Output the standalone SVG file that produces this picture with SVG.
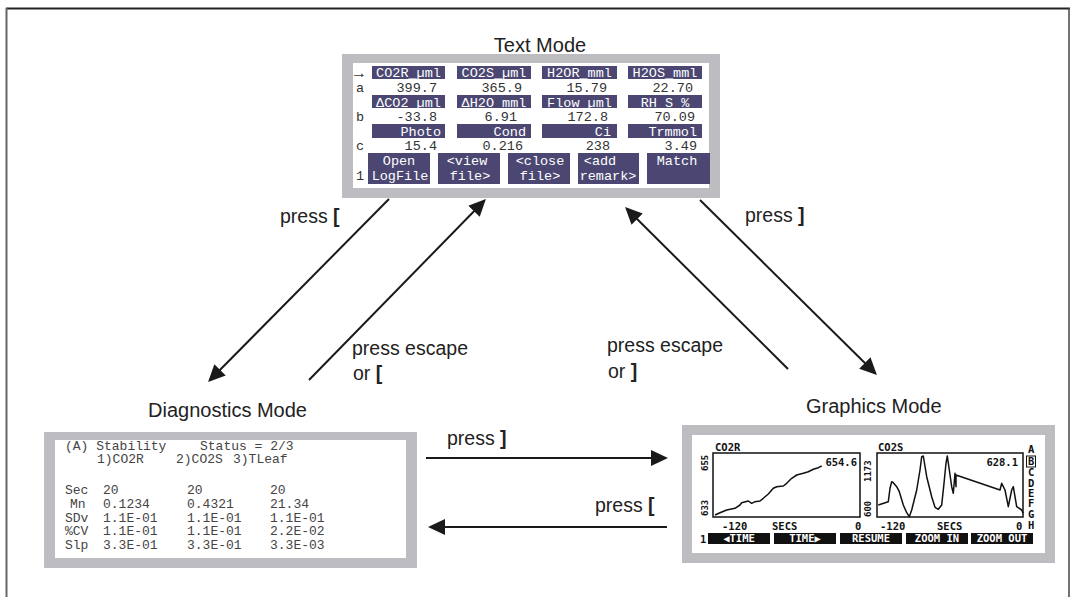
<svg xmlns="http://www.w3.org/2000/svg" width="1070" height="597" viewBox="0 0 1070 597">
<style>
.title{font-family:"Liberation Sans",Arial,sans-serif;font-size:20px;fill:#222}
.lbl{font-family:"Liberation Sans",Arial,sans-serif;font-size:19.5px;fill:#222}
.br{font-weight:bold}
.frame{fill:#bdbdc1}
.inner{fill:#fff}
.key{fill:#4b4772}
.kt{font-family:"Liberation Mono","Courier New",monospace;font-size:13.5px;fill:#fff}
.vt{font-family:"Liberation Mono","Courier New",monospace;font-size:13.5px;fill:#333}
.dt{font-family:"Liberation Mono","Courier New",monospace;font-size:13px;fill:#444}
.gt{font-family:"DejaVu Sans Mono",monospace;font-size:10.5px;font-weight:bold;fill:#111}
.gk{font-family:"DejaVu Sans Mono",monospace;font-size:10.5px;font-weight:bold;fill:#fff}
.gr{font-family:"DejaVu Sans Mono",monospace;font-size:9px;font-weight:bold;fill:#111}
.plot{fill:none;stroke:#111;stroke-width:1.5}
.curve{fill:none;stroke:#111;stroke-width:1.5;stroke-linejoin:round}
.conn{stroke:#1a1a1a;stroke-width:2;fill:none;marker-end:url(#ah)}
.mid{text-anchor:middle}
.end{text-anchor:end}
</style>
<defs>
<marker id="ah" markerUnits="userSpaceOnUse" markerWidth="18" markerHeight="18" refX="15" refY="8" orient="auto">
<path d="M0,0 L17,8 L0,16 Z" fill="#1a1a1a"/>
</marker>
</defs>
<rect x="0" y="0" width="1070" height="597" fill="#fff"/>
<g id="page-frame">
<line x1="6" y1="8.5" x2="1070" y2="8.5" stroke="#222" stroke-width="2"/>
<line x1="6.5" y1="8" x2="6.5" y2="597" stroke="#666" stroke-width="2"/>
<line x1="1069" y1="8" x2="1069" y2="597" stroke="#444" stroke-width="1.5"/>
</g>

<g id="text-mode">
<text class="title mid" x="540" y="52">Text Mode</text>
<rect class="frame" x="342" y="54" width="378" height="144"/>
<rect class="inner" x="353" y="63" width="356" height="125"/>
<g class="vt">
<text x="354" y="78" font-size="16">→</text>
<text x="356" y="92">a</text>
<text x="356" y="121">b</text>
<text x="356" y="150">c</text>
<text x="356" y="180">1</text>
</g>
<rect class="key" x="372" y="66" width="73" height="13"/>
<rect class="key" x="457" y="66" width="74" height="13"/>
<rect class="key" x="542" y="66" width="75" height="13"/>
<rect class="key" x="628" y="66" width="74" height="13"/>
<g class="kt mid">
<text x="408.5" y="77">CO2R_µml</text>
<text x="494" y="77">CO2S_µml</text>
<text x="579.5" y="77">H2OR_mml</text>
<text x="665" y="77">H2OS_mml</text>
</g>
<g class="vt end">
<text x="437" y="92">399.7</text>
<text x="522" y="92">365.9</text>
<text x="607" y="92">15.79</text>
<text x="693" y="92">22.70</text>
</g>
<rect class="key" x="372" y="95" width="73" height="13"/>
<rect class="key" x="457" y="95" width="74" height="13"/>
<rect class="key" x="542" y="95" width="75" height="13"/>
<rect class="key" x="628" y="95" width="74" height="13"/>
<g class="kt mid">
<text x="408.5" y="106.5">ΔCO2_µml</text>
<text x="494" y="106.5">ΔH2O_mml</text>
<text x="579.5" y="106.5">Flow_µml</text>
<text x="665" y="106.5">RH_S %</text>
</g>
<g class="vt end">
<text x="437" y="121">-33.8</text>
<text x="517" y="121">6.91</text>
<text x="608" y="121">172.8</text>
<text x="695" y="121">70.09</text>
</g>
<rect class="key" x="372" y="124" width="73" height="14"/>
<rect class="key" x="457" y="124" width="74" height="14"/>
<rect class="key" x="542" y="124" width="75" height="14"/>
<rect class="key" x="628" y="124" width="74" height="14"/>
<g class="kt end">
<text x="441" y="135.5">Photo</text>
<text x="526" y="135.5">Cond</text>
<text x="611" y="135.5">Ci</text>
<text x="697" y="135.5">Trmmol</text>
</g>
<g class="vt end">
<text x="437" y="150">15.4</text>
<text x="523" y="150">0.216</text>
<text x="610" y="150">238</text>
<text x="697" y="150">3.49</text>
</g>
<rect class="key" x="368" y="153" width="62" height="31"/>
<rect class="key" x="438" y="153" width="62" height="31"/>
<rect class="key" x="508" y="153" width="62" height="31"/>
<rect class="key" x="578" y="153" width="61" height="31"/>
<rect class="key" x="647" y="153" width="63" height="31"/>
<g class="kt mid">
<text x="399" y="165">Open</text>
<text x="400" y="180">LogFile</text>
<text x="467" y="165">&lt;view</text>
<text x="470" y="180">file&gt;</text>
<text x="540" y="165">&lt;close</text>
<text x="540" y="180">file&gt;</text>
<text x="600" y="165">&lt;add</text>
<text x="608" y="180">remark&gt;</text>
<text x="677" y="165">Match</text>
</g>
</g>

<g id="diagnostics-mode">
<text class="title" x="148" y="417">Diagnostics Mode</text>
<rect class="frame" x="44" y="432" width="373" height="136"/>
<rect class="inner" x="55" y="440" width="351" height="118"/>
<g class="dt">
<text x="65" y="450">(A) Stability</text>
<text x="200" y="450">Status = 2/3</text>
<text x="97" y="463">1)CO2R</text>
<text x="176" y="463">2)CO2S</text>
<text x="233" y="463">3)TLeaf</text>
<text x="65" y="494">Sec</text>
<text x="103" y="494">20</text>
<text x="187" y="494">20</text>
<text x="270" y="494">20</text>
<text x="70" y="508">Mn</text>
<text x="103" y="508">0.1234</text>
<text x="187" y="508">0.4321</text>
<text x="270" y="508">21.34</text>
<text x="65" y="522">SDv</text>
<text x="103" y="522">1.1E-01</text>
<text x="187" y="522">1.1E-01</text>
<text x="270" y="522">1.1E-01</text>
<text x="65" y="535">%CV</text>
<text x="103" y="535">1.1E-01</text>
<text x="187" y="535">1.1E-01</text>
<text x="270" y="535">2.2E-02</text>
<text x="65" y="549">Slp</text>
<text x="103" y="549">3.3E-01</text>
<text x="187" y="549">3.3E-01</text>
<text x="270" y="549">3.3E-03</text>
</g>
</g>

<g id="graphics-mode">
<text class="title" x="806" y="413">Graphics Mode</text>
<rect class="frame" x="682" y="425" width="373" height="138"/>
<rect class="inner" x="692" y="435" width="353" height="118"/>
<rect class="plot" x="713" y="453" width="147" height="64"/>
<rect class="plot" x="877" y="453" width="146" height="64"/>
<g class="gt">
<text x="715" y="451">CO2R</text>
<text x="878" y="451">CO2S</text>
<text x="857" y="466" text-anchor="end">654.6</text>
<text x="1018" y="466" text-anchor="end">628.1</text>
<text x="722" y="530">-120</text>
<text x="772" y="530">SECS</text>
<text x="855" y="530">0</text>
<text x="880" y="530">-120</text>
<text x="937" y="530">SECS</text>
<text x="1016" y="530">0</text>
<text x="1028" y="453">A</text>
<text x="1028" y="465">B</text>
<text x="1028" y="476">C</text>
<text x="1028" y="487">D</text>
<text x="1028" y="497">E</text>
<text x="1028" y="507">F</text>
<text x="1028" y="518">G</text>
<text x="1028" y="529">H</text>
<text x="700" y="543">1</text>
</g>
<rect x="1026.5" y="456" width="9" height="11" fill="none" stroke="#111" stroke-width="1"/>
<g class="gr">
<text transform="translate(708,471) rotate(-90)">655</text>
<text transform="translate(708,516) rotate(-90)">633</text>
<text transform="translate(871,482) rotate(-90)">1173</text>
<text transform="translate(871,517) rotate(-90)">600</text>
</g>
<polyline class="curve" points="715,515 720,512.7 726.7,510 735,508.3 740,505 741.7,502.7 748.3,501 751.7,503.3 755,501.7 760,501 763.3,498.3 768.3,494 773.3,488.3 776.7,486.7 783.3,486 786.7,483.3 791.7,478.3 796.7,475 803.3,473.3 808.3,471.7 813.3,469.3 818.3,467.7 821.7,466"/>
<polyline class="curve" points="878.3,505 888.3,501.7 890,488.3 891.7,481.7 893.3,482.7 896.7,486.7 899.3,491.7 903.3,505 906.7,512.7 909.3,516.7 911.7,510 916.7,490 920,470 921.7,456.7 923.3,456 926.7,476.7 931.7,496.7 935,507.3 938.3,509.3 941.7,505 944,483.3 946,463.3 947.3,456 949.3,470 951.7,486.7 953.3,493.3 955,473.3 956,486.7 956,475 1000,490 1001.7,483.3 1005,490 1008.3,506.7 1011.7,490 1013.3,486.7 1016.7,506.7 1021.7,510 1023,513.3"/>
<rect x="708" y="533" width="62" height="11" fill="#111"/>
<rect x="774" y="533" width="62" height="11" fill="#111"/>
<rect x="840" y="533" width="62" height="11" fill="#111"/>
<rect x="906" y="533" width="62" height="11" fill="#111"/>
<rect x="971" y="533" width="62" height="11" fill="#111"/>
<g class="gk mid">
<text x="739" y="542">◀TIME</text>
<text x="805" y="542">TIME▶</text>
<text x="871" y="542">RESUME</text>
<text x="937" y="542">ZOOM IN</text>
<text x="1002" y="542">ZOOM OUT</text>
</g>
</g>

<g id="connectors">
<line class="conn" x1="389" y1="199" x2="209.5" y2="380.5"/>
<line class="conn" x1="309" y1="380" x2="484.5" y2="200.5"/>
<line class="conn" x1="788" y1="369" x2="626.5" y2="208.5"/>
<line class="conn" x1="700" y1="200" x2="875.5" y2="373.5"/>
<line class="conn" x1="426" y1="458" x2="666" y2="458"/>
<line class="conn" x1="667" y1="527" x2="430" y2="527"/>
</g>
<g id="labels">
<text class="lbl" x="280" y="223">press <tspan class="br">[</tspan></text>
<text class="lbl" x="352" y="355">press escape</text>
<text class="lbl" x="353" y="380">or <tspan class="br">[</tspan></text>
<text class="lbl" x="607" y="352">press escape</text>
<text class="lbl" x="608" y="378">or <tspan class="br">]</tspan></text>
<text class="lbl" x="745" y="222">press <tspan class="br">]</tspan></text>
<text class="lbl" x="447" y="445">press <tspan class="br">]</tspan></text>
<text class="lbl" x="595" y="512">press <tspan class="br">[</tspan></text>
</g>
</svg>
